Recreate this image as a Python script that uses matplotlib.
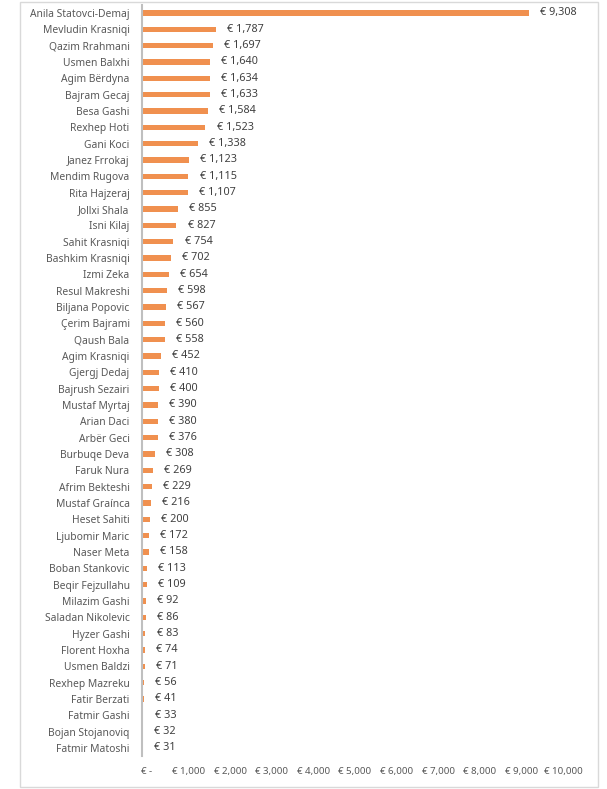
import numpy as np
import matplotlib
matplotlib.use('Agg')
import matplotlib.pyplot as plt
import matplotlib.patches as mpatches
import matplotlib.transforms as mtransforms

names = ['Anila Statovci-Demaj', 'Mevludin Krasniqi', 'Qazim Rrahmani', 'Usmen Balxhi',
         'Agim Bërdyna', 'Bajram Gecaj', 'Besa Gashi', 'Rexhep Hoti', 'Gani Koci',
         'Janez Frrokaj', 'Mendim Rugova', 'Rita Hajzeraj', 'Jollxi Shala', 'Isni Kilaj',
         'Sahit Krasniqi', 'Bashkim Krasniqi', 'Izmi Zeka', 'Resul Makreshi',
         'Biljana Popovic', 'Çerim Bajrami', 'Qaush Bala', 'Agim Krasniqi', 'Gjergj Dedaj',
         'Bajrush Sezairi', 'Mustaf Myrtaj', 'Arian Daci', 'Arbër Geci', 'Burbuqe Deva',
         'Faruk Nura', 'Afrim Bekteshi', 'Mustaf Graínca', 'Heset Sahiti', 'Ljubomir Maric',
         'Naser Meta', 'Boban Stankovic', 'Beqir Fejzullahu', 'Milazim Gashi',
         'Saladan Nikolevic', 'Hyzer Gashi', 'Florent Hoxha', 'Usmen Baldzi',
         'Rexhep Mazreku', 'Fatir Berzati', 'Fatmir Gashi', 'Bojan Stojanoviq',
         'Fatmir Matoshi']
amounts = [9308, 1787, 1697, 1640, 1634, 1633, 1584, 1523, 1338, 1123, 1115, 1107,
           855, 827, 754, 702, 654, 598, 567, 560, 558, 452, 410, 400, 390, 380, 376,
           308, 269, 229, 216, 200, 172, 158, 113, 109, 92, 86, 83, 74, 71, 56, 41,
           33, 32, 31]
xticks = np.arange(0, 10001, 1000)

plt.rcParams['font.family'] = ['Noto Sans', 'DejaVu Sans']

fig = plt.figure(figsize=(6.07, 7.89), dpi=100)
ax = fig.add_axes([0.234, 0.0418, 0.6853, 0.9521])

# chart border
fig.patches.append(mpatches.Rectangle((20 / 607, 0.002), 578 / 607, 0.996,
                                      transform=fig.transFigure, fill=False,
                                      edgecolor='#D9D9D9', linewidth=1))

# striped orange bars, drawn as one blended tone
y = np.arange(len(names))
ax.barh(y, amounts, height=0.33, color='#F0904F', edgecolor='none', linewidth=0)

def euro(v):
  return '€ -' if v == 0 else '€ {:,.0f}'.format(v)

for yi, v in zip(y, amounts):
  ax.annotate(euro(v), (v, yi), xytext=(8, 0), textcoords='offset points',
              va='center', ha='left', fontsize=7.8, color='#404040')

ax.set_ylim(len(names) - 0.5, -0.5)
ax.set_xlim(0, 10000)
ax.set_yticks(y)
ax.set_yticklabels(names, fontsize=7.4, color='#595959')
ax.set_xticks(xticks)
ax.set_xticklabels([euro(v) for v in xticks], fontsize=7, color='#595959')
ax.tick_params(axis='y', length=0, pad=9)
ax.tick_params(axis='x', length=0, pad=8)
# accounting format pushes the labels a bit to the right
shift = mtransforms.ScaledTranslation(5 / 100, 0, fig.dpi_scale_trans)
for lbl in ax.get_xticklabels():
  lbl.set_transform(lbl.get_transform() + shift)
for s in ['top', 'right', 'bottom']:
  ax.spines[s].set_visible(False)
ax.spines['left'].set_color('#BFBFBF')
ax.spines['left'].set_linewidth(1.5)

fig.savefig('out.png', dpi=100)
